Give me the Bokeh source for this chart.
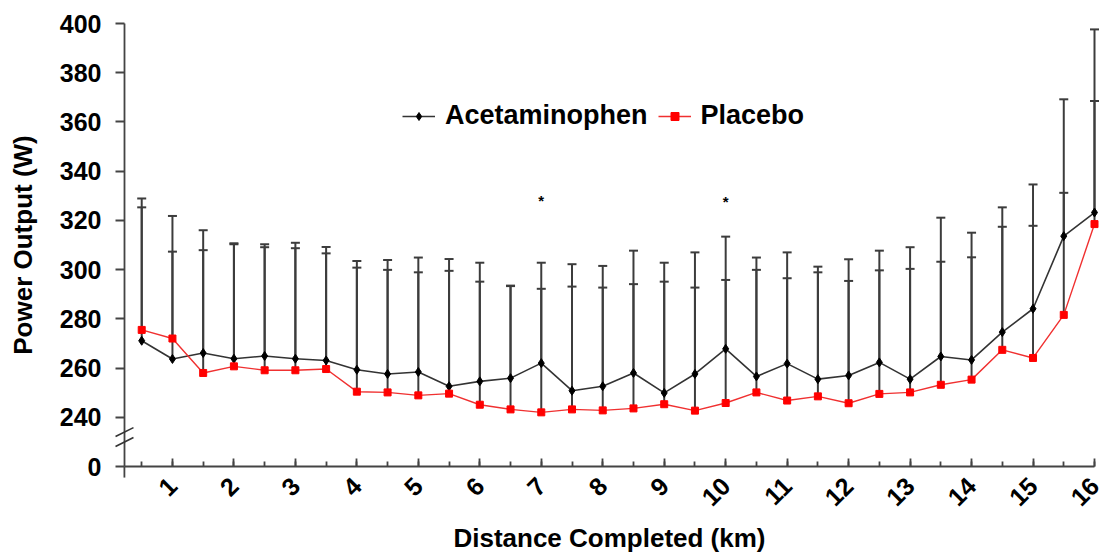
import math
from bokeh.plotting import figure
from bokeh.models import Range1d, FixedTicker, Legend, LegendItem, ColumnDataSource
from bokeh.core.properties import value
from bokeh.embed import file_html
from bokeh.resources import INLINE

# ---- data -------------------------------------------------------------
distance = [0.5, 1.0, 1.5, 2.0, 2.5, 3.0, 3.5, 4.0, 4.5, 5.0,
            5.5, 6.0, 6.5, 7.0, 7.5, 8.0, 8.5, 9.0, 9.5, 10.0,
            10.5, 11.0, 11.5, 12.0, 12.5, 13.0, 13.5, 14.0, 14.5, 15.0,
            15.5, 16.0]

acetaminophen = [271.1, 263.7, 266.1, 263.8, 264.9, 263.8, 263.1, 259.3, 257.6, 258.4,
                 252.6, 254.6, 255.9, 262.0, 250.8, 252.6, 258.0, 249.9, 257.6, 267.8,
                 256.6, 261.8, 255.5, 257.0, 262.3, 255.5, 264.7, 263.3, 274.6, 284.1,
                 313.6, 323.2]

placebo = [275.5, 272.0, 258.0, 260.7, 259.1, 259.1, 259.6, 250.4, 250.1, 248.9,
           249.6, 245.1, 243.2, 242.0, 243.2, 242.8, 243.6, 245.3, 242.7, 245.8,
           250.1, 246.8, 248.5, 245.7, 249.5, 250.1, 253.2, 255.3, 267.4, 264.1,
           281.6, 318.5]

# mean + SD (upper error bar ends)
acetaminophen_upper = [328.9, 321.8, 316.0, 310.7, 310.3, 310.9, 309.2, 303.5, 303.9, 304.9,
                       304.3, 302.8, 293.5, 302.8, 302.2, 301.5, 307.7, 302.8, 307.0, 313.4,
                       304.9, 307.0, 301.2, 304.2, 307.7, 309.1, 321.1, 315.0, 325.3, 334.6,
                       369.2, 397.6]

placebo_upper = [325.3, 307.3, 307.9, 310.3, 309.1, 308.7, 306.6, 300.8, 299.9, 298.9,
                 299.5, 295.1, 293.3, 292.2, 293.1, 292.7, 294.1, 295.1, 292.7, 295.8,
                 299.9, 296.5, 298.9, 295.4, 299.7, 300.3, 303.2, 305.0, 317.4, 317.8,
                 331.2, 368.5]

significant_distance = [7.0, 10.0]
significant_y = [328.5, 328.0]

x_major_ticks = list(range(1, 17))
x_minor_ticks = distance
y_ticks = [220, 240, 260, 280, 300, 320, 340, 360, 380, 400]
y_tick_labels = {220: "0"}   # broken axis: bottom tick represents 0

FONT = "Liberation Sans"

src = ColumnDataSource(dict(x=distance, a=acetaminophen, p=placebo,
                            au=acetaminophen_upper, pu=placebo_upper))

p = figure(width=1105, height=555, output_backend="svg", toolbar_location=None,
           x_range=Range1d(0.22, 16.0), y_range=Range1d(220, 400),
           min_border_left=124, min_border_right=11, min_border_top=23, min_border_bottom=88,
           background_fill_color="white", border_fill_color="white")
p.outline_line_color = None
p.grid.visible = False

ERR = "#3c3c3c"
# error bars
p.segment(x0="x", y0="p", x1="x", y1="pu", source=src, line_color=ERR, line_width=2, level="overlay")
p.segment(x0="x", y0="a", x1="x", y1="au", source=src, line_color=ERR, line_width=2, level="overlay")
p.scatter(x="x", y="pu", source=src, marker="dash", size=9, line_color=ERR, line_width=2, level="overlay")
p.scatter(x="x", y="au", source=src, marker="dash", size=9, line_color=ERR, line_width=2, level="overlay")

# lines and markers
la = p.line(x="x", y="a", source=src, line_color="#333333", line_width=1.6, level="overlay")
lp = p.line(x="x", y="p", source=src, line_color="#f03030", line_width=1.4, level="overlay")
ma = p.scatter(x="x", y="a", source=src, marker="diamond", size=9, fill_color="black",
               line_color="black", level="overlay")
mp = p.scatter(x="x", y="p", source=src, marker="square", size=7, fill_color="#ff0000",
               line_color="#ff0000", level="overlay")

# significance stars
p.text(x=significant_distance, y=significant_y, text=["*", "*"], text_font=value(FONT),
       text_font_style="bold", text_font_size="15px", text_align="center",
       text_baseline="middle", y_offset=1, text_color="black", level="overlay")

# axis break marks and small extension of the y axis below the origin
p.segment(x0=[0.074, 0.074], y0=[232.2, 228.1], x1=[0.366, 0.366], y1=[235.8, 231.8],
          line_color="#333333", line_width=1.6, level="overlay")
p.segment(x0=[0.2185], y0=[220], x1=[0.2185], y1=[215.5],
          line_color="#444444", line_width=1.8, level="overlay")

# axes
AX = "#444444"
xa = p.xaxis[0]
xa.ticker = FixedTicker(ticks=x_major_ticks, minor_ticks=x_minor_ticks)
xa.major_label_orientation = math.pi / 4
xa.major_tick_in = 8
xa.major_tick_out = 0
xa.minor_tick_in = 5
xa.minor_tick_out = 0
xa.axis_label = "Distance Completed (km)"
xa.major_label_standoff = 15
xa.axis_label_standoff = 6

ya = p.yaxis[0]
ya.ticker = FixedTicker(ticks=y_ticks, minor_ticks=[])
ya.major_label_overrides = y_tick_labels
ya.major_tick_in = 0
ya.major_tick_out = 9
ya.minor_tick_in = 0
ya.minor_tick_out = 0
ya.axis_label = "Power Output (W)"
ya.major_label_standoff = 14
ya.axis_label_standoff = 19

for ax in (xa, ya):
    ax.axis_line_color = AX
    ax.axis_line_width = 1.8
    ax.major_tick_line_color = AX
    ax.major_tick_line_width = 1.8
    ax.minor_tick_line_color = AX
    ax.minor_tick_line_width = 1.8
    ax.major_label_text_font = FONT
    ax.major_label_text_font_style = "bold"
    ax.major_label_text_font_size = "25px"
    ax.major_label_text_color = "black"
    ax.axis_label_text_font = FONT
    ax.axis_label_text_font_style = "bold"
    ax.axis_label_text_font_size = "26px"
    ax.axis_label_text_color = "black"

legend = Legend(items=[LegendItem(label="Acetaminophen", renderers=[la, ma]),
                       LegendItem(label="Placebo", renderers=[lp, mp])],
                orientation="horizontal", location=(278, 335),
                label_text_font=FONT, label_text_font_style="bold",
                label_text_font_size="27px", label_text_color="black",
                glyph_width=33, glyph_height=20, label_standoff=10, spacing=10,
                padding=0, margin=0, border_line_color=None,
                background_fill_alpha=0)
p.add_layout(legend, "center")

open("out.html", "w").write(file_html(p, INLINE))
